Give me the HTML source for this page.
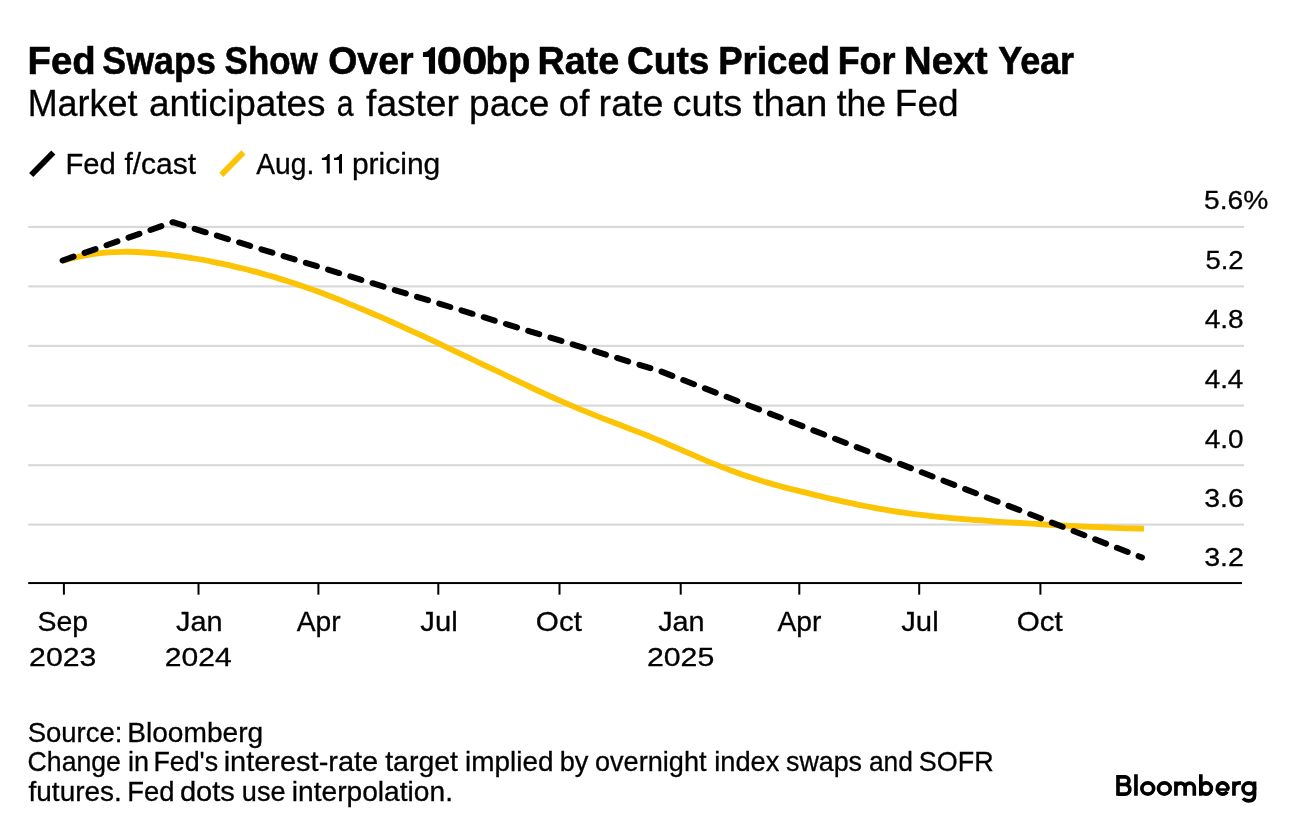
<!DOCTYPE html>
<html><head><meta charset="utf-8"><title>Fed Swaps Show Over 100bp Rate Cuts Priced For Next Year</title>
<style>html,body{margin:0;padding:0;background:#fff}body{width:1296px;height:832px;overflow:hidden;font-family:"Liberation Sans",sans-serif}svg text{font-family:"Liberation Sans",sans-serif}</style></head>
<body>
<svg width="1296" height="832" viewBox="0 0 1296 832" style="display:block;font-family:'Liberation Sans',sans-serif">
<rect width="1296" height="832" fill="#fff"/>
<rect x="28.2" y="225.85" width="1215.8" height="2.1" fill="#d8d8d8"/>
<rect x="28.2" y="285.35" width="1215.8" height="2.1" fill="#d8d8d8"/>
<rect x="28.2" y="344.85" width="1215.8" height="2.1" fill="#d8d8d8"/>
<rect x="28.2" y="404.55" width="1215.8" height="2.1" fill="#d8d8d8"/>
<rect x="28.2" y="464.15" width="1215.8" height="2.1" fill="#d8d8d8"/>
<rect x="28.2" y="523.55" width="1215.8" height="2.1" fill="#d8d8d8"/>
<path d="M62.6,260.9C65.1,260.2 72.6,258.1 77.6,257.0C82.6,255.9 87.6,254.9 92.6,254.1C97.6,253.4 102.7,252.8 107.7,252.4C112.7,252.0 117.7,251.8 122.7,251.8C127.7,251.7 132.7,251.8 137.7,252.0C142.7,252.2 147.7,252.6 152.7,253.0C157.7,253.5 162.7,254.0 167.7,254.6C172.7,255.2 177.7,255.9 182.8,256.6C187.8,257.4 192.8,258.2 197.8,259.0C202.8,259.9 207.8,260.8 212.8,261.8C217.8,262.8 222.8,263.8 227.8,264.9C232.8,266.1 237.8,267.2 242.8,268.5C247.8,269.7 252.8,271.0 257.9,272.4C262.9,273.7 267.9,275.2 272.9,276.6C277.9,278.1 282.9,279.7 287.9,281.3C292.9,282.9 297.9,284.6 302.9,286.3C307.9,288.0 312.9,289.8 317.9,291.6C322.9,293.5 327.9,295.4 332.9,297.3C338.0,299.2 343.0,301.2 348.0,303.3C353.0,305.3 358.0,307.4 363.0,309.5C368.0,311.6 373.0,313.7 378.0,315.9C383.0,318.1 388.0,320.3 393.0,322.5C398.0,324.8 403.0,327.0 408.0,329.3C413.1,331.6 418.1,333.9 423.1,336.2C428.1,338.5 433.1,340.9 438.1,343.2C443.1,345.6 448.1,347.9 453.1,350.3C458.1,352.7 463.1,355.0 468.1,357.4C473.1,359.8 478.1,362.2 483.1,364.6C488.2,367.0 493.2,369.4 498.2,371.7C503.2,374.1 508.2,376.5 513.2,378.9C518.2,381.3 523.2,383.7 528.2,386.0C533.2,388.4 538.2,390.8 543.2,393.1C548.2,395.4 553.2,397.6 558.2,399.9C563.2,402.1 568.3,404.3 573.3,406.4C578.3,408.5 583.3,410.6 588.3,412.6C593.3,414.6 598.3,416.6 603.3,418.6C608.3,420.5 613.3,422.4 618.3,424.3C623.3,426.3 628.3,428.1 633.3,430.1C638.3,432.0 643.4,434.0 648.4,436.0C653.4,438.1 658.4,440.1 663.4,442.2C668.4,444.3 673.4,446.5 678.4,448.7C683.4,450.8 688.4,453.0 693.4,455.2C698.4,457.3 703.4,459.5 708.4,461.6C713.4,463.6 718.4,465.7 723.5,467.6C728.5,469.6 733.5,471.4 738.5,473.2C743.5,475.0 748.5,476.7 753.5,478.3C758.5,479.9 763.5,481.5 768.5,482.9C773.5,484.4 778.5,485.7 783.5,487.1C788.5,488.4 793.5,489.7 798.6,490.9C803.6,492.2 808.6,493.4 813.6,494.6C818.6,495.8 823.6,497.0 828.6,498.2C833.6,499.3 838.6,500.5 843.6,501.6C848.6,502.7 853.6,503.7 858.6,504.8C863.6,505.8 868.6,506.7 873.6,507.7C878.7,508.6 883.7,509.5 888.7,510.3C893.7,511.1 898.7,511.9 903.7,512.6C908.7,513.3 913.7,514.0 918.7,514.6C923.7,515.2 928.7,515.8 933.7,516.3C938.7,516.8 943.7,517.3 948.7,517.8C953.8,518.2 958.8,518.7 963.8,519.1C968.8,519.5 973.8,519.9 978.8,520.2C983.8,520.6 988.8,521.0 993.8,521.3C998.8,521.7 1003.8,522.0 1008.8,522.3C1013.8,522.6 1018.8,522.9 1023.8,523.2C1028.9,523.6 1033.9,523.9 1038.9,524.1C1043.9,524.4 1048.9,524.7 1053.9,525.0C1058.9,525.3 1063.9,525.6 1068.9,525.8C1073.9,526.1 1078.9,526.3 1083.9,526.6C1088.9,526.8 1093.9,527.0 1098.9,527.2C1103.9,527.4 1109.0,527.6 1114.0,527.8C1119.0,528.0 1124.0,528.1 1129.0,528.3C1134.0,528.4 1141.5,528.7 1144.0,528.7" fill="none" stroke="#fcc405" stroke-width="5.8" stroke-linejoin="round"/>
<path d="M62.6,260.5L172.8,222.2L660.4,371.2L1142,557.5" fill="none" stroke="#000" stroke-width="6" stroke-linecap="round" stroke-linejoin="round" stroke-dasharray="11.6 11.65"/>
<rect x="28.2" y="582.05" width="1213.8" height="2.0" fill="#000"/>
<rect x="62.9" y="583" width="2" height="11.7" fill="#000"/>
<rect x="197.5" y="583" width="2" height="11.7" fill="#000"/>
<rect x="317.4" y="583" width="2" height="11.7" fill="#000"/>
<rect x="437.3" y="583" width="2" height="11.7" fill="#000"/>
<rect x="558.5" y="583" width="2" height="11.7" fill="#000"/>
<rect x="679.7" y="583" width="2" height="11.7" fill="#000"/>
<rect x="798.3" y="583" width="2" height="11.7" fill="#000"/>
<rect x="918.2" y="583" width="2" height="11.7" fill="#000"/>
<rect x="1039.4" y="583" width="2" height="11.7" fill="#000"/>
<path d="M31.2,175.0L53.3,152.5" stroke="#000" stroke-width="5.8" fill="none"/>
<path d="M221.3,174.9L243.4,152.4" stroke="#fcc405" stroke-width="5.8" fill="none"/>
<g fill="none" stroke="#000" stroke-width="3.65"><path d="M1118,775.1V795.8M1118,776.87H1125.1a3.83,3.83 0 0 1 0,7.66H1118M1118,784.53H1125.1a4.77,4.77 0 0 1 0,9.54H1118M1135.95,774.2V795.8M1175.95,781.5V795.8M1175.95,787.6a4.575,4.5 0 0 1 9.15,0V795.8M1185.1,787.6a4.6,4.5 0 0 1 9.2,0V795.8M1200.8,774.2V795.8M1228.01,789.2A5.4,5.62 0 1 0 1227.18,791.56M1233.95,781.6V795.8M1233.95,788.2a5.3,5.35 0 0 1 5.3,-5.35h1.65M1254.55,781.5V795.6C1254.55,799.2 1252.2,800.85 1248.7,800.85C1246.2,800.85 1244.4,800.0 1243.0,798.4"/><path d="M1217.25,789.55H1229.05" stroke-width="2.5"/><ellipse cx="1147.75" cy="788.5" rx="5.9" ry="5.62"/><ellipse cx="1164.35" cy="788.5" rx="5.9" ry="5.62"/><ellipse cx="1206.1" cy="788.5" rx="5.3" ry="5.62"/><ellipse cx="1248.75" cy="788.5" rx="5.78" ry="5.62"/></g>
<g opacity="0.999">
<text transform="translate(27.47,73.80) scale(0.9878,1)" font-size="38.81" font-weight="700" stroke="#000" stroke-width="0.6" fill="#000">Fed</text>
<text transform="translate(102.30,73.80) scale(0.9235,1)" font-size="38.81" font-weight="700" stroke="#000" stroke-width="0.6" fill="#000">Swaps</text>
<text transform="translate(224.62,73.80) scale(0.8996,1)" font-size="38.81" font-weight="700" stroke="#000" stroke-width="0.6" fill="#000">Show</text>
<text transform="translate(328.16,73.80) scale(0.9663,1)" font-size="38.81" font-weight="700" stroke="#000" stroke-width="0.6" fill="#000">Over</text>
<text transform="translate(436.83,73.80) scale(1.1724,1)" font-size="38.81" font-weight="700" stroke="#000" stroke-width="0.6" fill="#000">00</text>
<text transform="translate(485.62,73.80) scale(0.9420,1)" font-size="38.81" font-weight="700" stroke="#000" stroke-width="0.6" fill="#000">bp</text>
<text transform="translate(537.51,73.80) scale(0.9711,1)" font-size="38.81" font-weight="700" stroke="#000" stroke-width="0.6" fill="#000">Rate</text>
<text transform="translate(627.08,73.80) scale(0.9556,1)" font-size="38.81" font-weight="700" stroke="#000" stroke-width="0.6" fill="#000">Cuts</text>
<text transform="translate(718.18,73.80) scale(0.9444,1)" font-size="38.81" font-weight="700" stroke="#000" stroke-width="0.6" fill="#000">Priced</text>
<text transform="translate(837.63,73.80) scale(0.9257,1)" font-size="38.81" font-weight="700" stroke="#000" stroke-width="0.6" fill="#000">For</text>
<text transform="translate(903.85,73.80) scale(0.9967,1)" font-size="38.81" font-weight="700" stroke="#000" stroke-width="0.6" fill="#000">Next</text>
<text transform="translate(998.19,73.80) scale(0.9258,1)" font-size="38.81" font-weight="700" stroke="#000" stroke-width="0.6" fill="#000">Year</text>
<text transform="translate(27.65,116.00) scale(0.9927,1)" font-size="36.19" stroke="#000" stroke-width="0.3" fill="#000">Market</text>
<text transform="translate(149.05,116.00) scale(1.0199,1)" font-size="36.19" stroke="#000" stroke-width="0.3" fill="#000">anticipates</text>
<text transform="translate(336.84,116.00) scale(0.8316,1)" font-size="36.19" stroke="#000" stroke-width="0.3" fill="#000">a</text>
<text transform="translate(366.08,116.00) scale(1.0254,1)" font-size="36.19" stroke="#000" stroke-width="0.3" fill="#000">faster</text>
<text transform="translate(469.03,116.00) scale(1.0247,1)" font-size="36.19" stroke="#000" stroke-width="0.3" fill="#000">pace</text>
<text transform="translate(558.76,116.00) scale(1.0127,1)" font-size="36.19" stroke="#000" stroke-width="0.3" fill="#000">of</text>
<text transform="translate(598.62,116.00) scale(1.0381,1)" font-size="36.19" stroke="#000" stroke-width="0.3" fill="#000">rate</text>
<text transform="translate(672.61,116.00) scale(1.0479,1)" font-size="36.19" stroke="#000" stroke-width="0.3" fill="#000">cuts</text>
<text transform="translate(752.72,116.00) scale(1.0611,1)" font-size="36.19" stroke="#000" stroke-width="0.3" fill="#000">than</text>
<text transform="translate(836.67,116.00) scale(0.9798,1)" font-size="36.19" stroke="#000" stroke-width="0.3" fill="#000">the</text>
<text transform="translate(894.76,116.00) scale(1.0232,1)" font-size="36.19" stroke="#000" stroke-width="0.3" fill="#000">Fed</text>
<text transform="translate(65.50,173.70) scale(1.0056,1)" font-size="29.07" stroke="#000" stroke-width="0.3" fill="#000">Fed</text>
<text transform="translate(124.38,173.70) scale(1.0339,1)" font-size="29.07" stroke="#000" stroke-width="0.3" fill="#000">f/cast</text>
<text transform="translate(256.24,173.70) scale(0.9721,1)" font-size="29.07" stroke="#000" stroke-width="0.3" fill="#000">Aug.</text>
<text transform="translate(351.88,173.70) scale(1.0327,1)" font-size="29.07" stroke="#000" stroke-width="0.3" fill="#000">pricing</text>
<text transform="translate(1204.07,209.30) scale(1.0891,1)" font-size="25.87" stroke="#000" stroke-width="0.3" fill="#000">5.6%</text>
<text transform="translate(1205.40,268.80) scale(1.0644,1)" font-size="25.87" stroke="#000" stroke-width="0.3" fill="#000">5.2</text>
<text transform="translate(1204.68,328.30) scale(1.0852,1)" font-size="25.87" stroke="#000" stroke-width="0.3" fill="#000">4.8</text>
<text transform="translate(1204.69,388.00) scale(1.0738,1)" font-size="25.87" stroke="#000" stroke-width="0.3" fill="#000">4.4</text>
<text transform="translate(1204.68,447.60) scale(1.0811,1)" font-size="25.87" stroke="#000" stroke-width="0.3" fill="#000">4.0</text>
<text transform="translate(1204.22,507.00) scale(1.0984,1)" font-size="25.87" stroke="#000" stroke-width="0.3" fill="#000">3.6</text>
<text transform="translate(1204.21,565.60) scale(1.1043,1)" font-size="25.87" stroke="#000" stroke-width="0.3" fill="#000">3.2</text>
<text transform="translate(37.57,631.10) scale(1.0453,1)" font-size="27.18" stroke="#000" stroke-width="0.3" fill="#000">Sep</text>
<text transform="translate(175.97,631.10) scale(1.0608,1)" font-size="27.18" stroke="#000" stroke-width="0.3" fill="#000">Jan</text>
<text transform="translate(296.64,631.10) scale(1.0382,1)" font-size="27.18" stroke="#000" stroke-width="0.3" fill="#000">Apr</text>
<text transform="translate(420.36,631.10) scale(1.0758,1)" font-size="27.18" stroke="#000" stroke-width="0.3" fill="#000">Jul</text>
<text transform="translate(535.86,631.10) scale(1.0900,1)" font-size="27.18" stroke="#000" stroke-width="0.3" fill="#000">Oct</text>
<text transform="translate(658.17,631.10) scale(1.0608,1)" font-size="27.18" stroke="#000" stroke-width="0.3" fill="#000">Jan</text>
<text transform="translate(777.54,631.10) scale(1.0382,1)" font-size="27.18" stroke="#000" stroke-width="0.3" fill="#000">Apr</text>
<text transform="translate(901.26,631.10) scale(1.0758,1)" font-size="27.18" stroke="#000" stroke-width="0.3" fill="#000">Jul</text>
<text transform="translate(1016.76,631.10) scale(1.0900,1)" font-size="27.18" stroke="#000" stroke-width="0.3" fill="#000">Oct</text>
<text transform="translate(29.09,666.10) scale(1.1551,1)" font-size="26.16" stroke="#000" stroke-width="0.3" fill="#000">2023</text>
<text transform="translate(164.69,666.10) scale(1.1511,1)" font-size="26.16" stroke="#000" stroke-width="0.3" fill="#000">2024</text>
<text transform="translate(646.89,666.10) scale(1.1576,1)" font-size="26.16" stroke="#000" stroke-width="0.3" fill="#000">2025</text>
<text transform="translate(27.66,741.60) scale(1.0180,1)" font-size="27.03" stroke="#000" stroke-width="0.3" fill="#000">Source:</text>
<text transform="translate(127.19,741.60) scale(1.0403,1)" font-size="27.03" stroke="#000" stroke-width="0.3" fill="#000">Bloomberg</text>
<text transform="translate(27.57,771.40) scale(0.9863,1)" font-size="27.03" stroke="#000" stroke-width="0.3" fill="#000">Change</text>
<text transform="translate(127.92,771.40) scale(0.9989,1)" font-size="27.03" stroke="#000" stroke-width="0.3" fill="#000">in</text>
<text transform="translate(153.40,771.40) scale(0.9924,1)" font-size="27.03" stroke="#000" stroke-width="0.3" fill="#000">Fed's</text>
<text transform="translate(223.69,771.40) scale(1.0718,1)" font-size="27.03" stroke="#000" stroke-width="0.3" fill="#000">interest-rate</text>
<text transform="translate(385.17,771.40) scale(1.0535,1)" font-size="27.03" stroke="#000" stroke-width="0.3" fill="#000">target</text>
<text transform="translate(465.06,771.40) scale(1.0325,1)" font-size="27.03" stroke="#000" stroke-width="0.3" fill="#000">implied</text>
<text transform="translate(559.66,771.40) scale(1.0051,1)" font-size="27.03" stroke="#000" stroke-width="0.3" fill="#000">by</text>
<text transform="translate(594.96,771.40) scale(1.0037,1)" font-size="27.03" stroke="#000" stroke-width="0.3" fill="#000">overnight</text>
<text transform="translate(714.20,771.40) scale(1.0098,1)" font-size="27.03" stroke="#000" stroke-width="0.3" fill="#000">index</text>
<text transform="translate(785.98,771.40) scale(0.9931,1)" font-size="27.03" stroke="#000" stroke-width="0.3" fill="#000">swaps</text>
<text transform="translate(868.89,771.40) scale(0.9756,1)" font-size="27.03" stroke="#000" stroke-width="0.3" fill="#000">and</text>
<text transform="translate(918.79,771.40) scale(0.9967,1)" font-size="27.03" stroke="#000" stroke-width="0.3" fill="#000">SOFR</text>
<text transform="translate(28.51,801.40) scale(1.0364,1)" font-size="27.03" stroke="#000" stroke-width="0.3" fill="#000">futures.</text>
<text transform="translate(127.35,801.40) scale(1.0133,1)" font-size="27.03" stroke="#000" stroke-width="0.3" fill="#000">Fed</text>
<text transform="translate(179.88,801.40) scale(1.0778,1)" font-size="27.03" stroke="#000" stroke-width="0.3" fill="#000">dots</text>
<text transform="translate(241.86,801.40) scale(1.0034,1)" font-size="27.03" stroke="#000" stroke-width="0.3" fill="#000">use</text>
<text transform="translate(291.74,801.40) scale(1.0421,1)" font-size="27.03" stroke="#000" stroke-width="0.3" fill="#000">interpolation.</text>
<path d="M329.75,154.10V173.60H326.70V160.10H321.90V157.80C325.74,157.80 326.85,156.32 327.92,154.10Z" fill="#000"/>
<path d="M342.00,154.10V173.60H338.95V160.10H334.00V157.80C337.96,157.80 339.10,156.32 340.17,154.10Z" fill="#000"/>
<path d="M435.05,47.30V73.80H428.90V57.10H422.96V52.20C427.71,52.20 429.21,50.24 431.36,47.30Z" fill="#000"/>
</g>
</svg>
</body></html>
